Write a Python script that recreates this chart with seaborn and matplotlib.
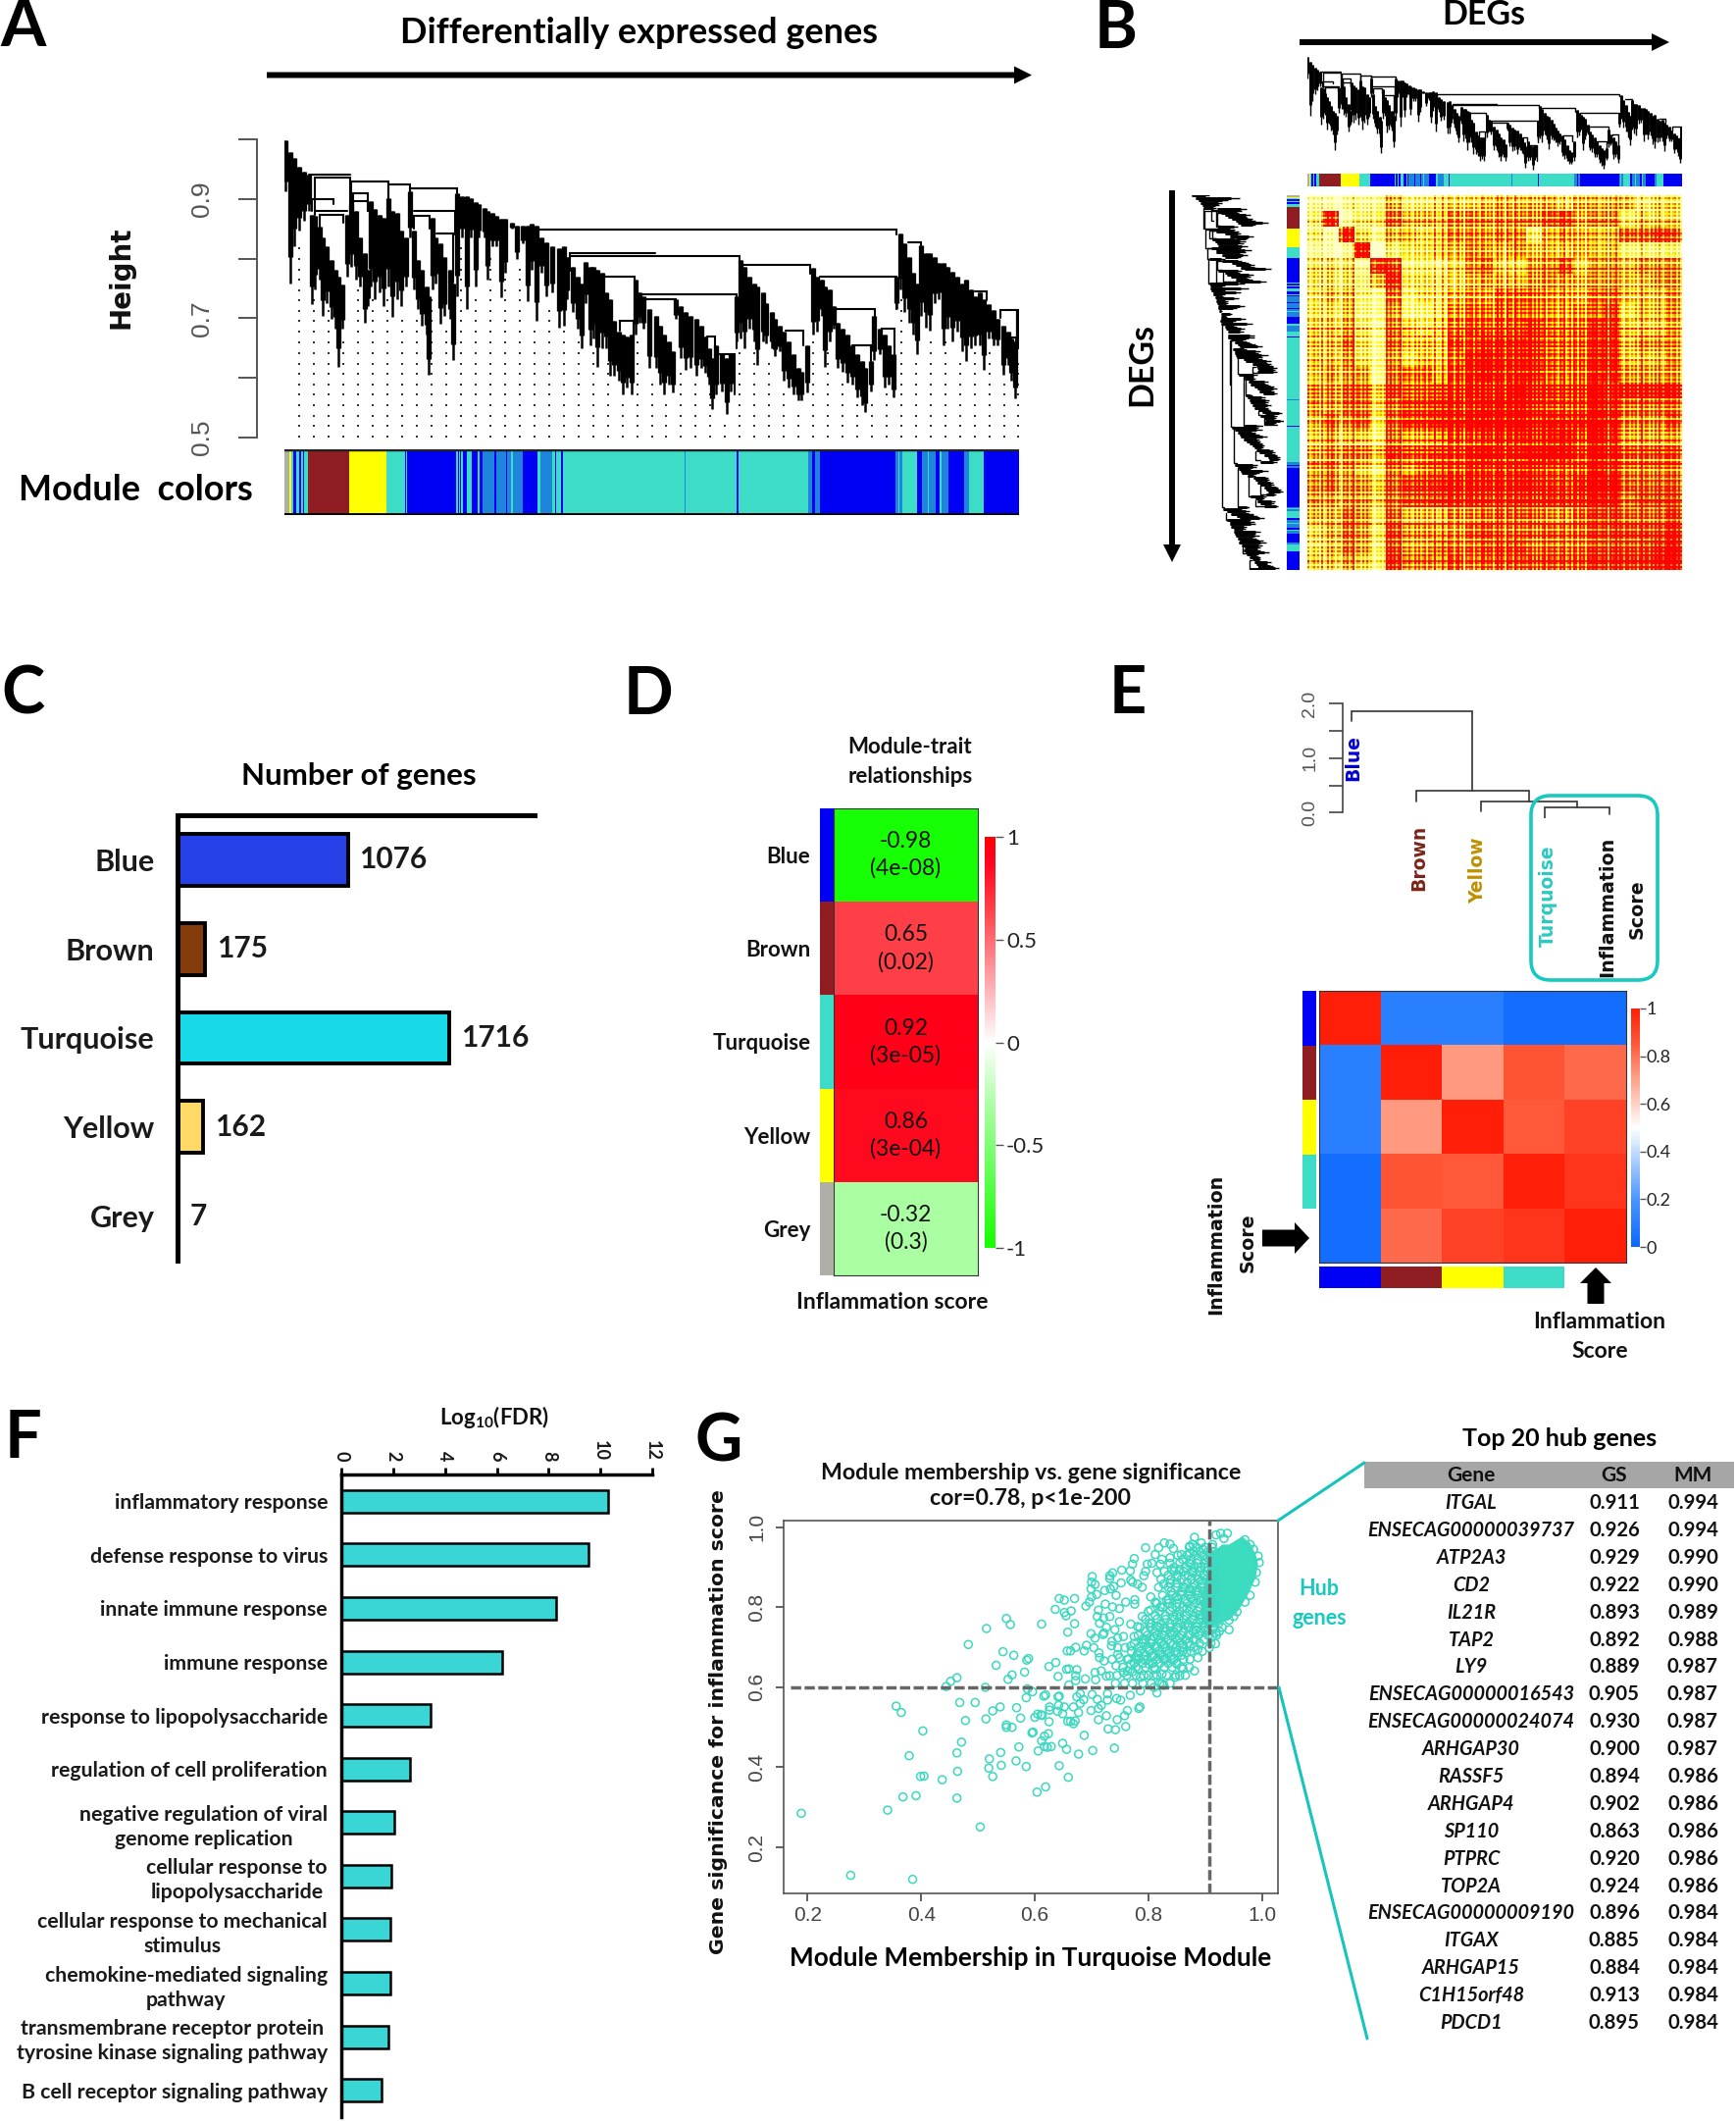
import matplotlib
matplotlib.use("Agg")
import numpy as np
import pandas as pd
import matplotlib.pyplot as plt
import seaborn as sns
from matplotlib.colors import ListedColormap, LinearSegmentedColormap
from matplotlib.patches import FancyArrow, FancyBboxPatch, Rectangle

W, H = 1770, 2162

# gene order modules, run-length: g grey, y yellow, t turquoise, b blue, n brown, m mixed blue/turquoise
MODULE_RUNS = [("g", 20), ("y", 8), ("t", 8), ("b", 12), ("t", 12), ("b", 12), ("t", 8), ("b", 4), ("t", 16), ("n", 174),
               ("y", 154), ("t", 80), ("b", 6), ("t", 4), ("b", 206), ("t", 6), ("b", 4), ("t", 6), ("b", 4), ("t", 6),
               ("b", 18), ("t", 22), ("b", 24), ("t", 10), ("b", 10), ("m", 50), ("b", 8), ("m", 40), ("b", 6), ("m", 16),
               ("t", 8), ("m", 40), ("b", 62), ("t", 14), ("m", 50), ("t", 14), ("b", 4), ("t", 18), ("b", 10), ("t", 510),
               ("m", 6), ("t", 214), ("b", 10), ("t", 290), ("m", 20), ("b", 10), ("m", 20), ("b", 320), ("m", 10), ("t", 4),
               ("m", 16), ("t", 60), ("b", 20), ("m", 24), ("t", 8), ("m", 28), ("b", 16), ("t", 6), ("m", 30), ("b", 68),
               ("m", 20), ("t", 60), ("b", 150)]
MODULE_CODES = "gytbnm"
MODULE_COLORS = ["#AFAFA8", "#FFFF00", "#3CDCC6", "#0000F5", "#8F1D21", "#1E84DC"]

# dendrogram columns: position (% of genes), top height, bottom height
DENDRO_COLUMNS = [
    (0.1, .998, .913), (0.8, .979, .759), (1.3, .968, .820), (2.0, .954, .847), (2.7, .946, .864), (3.3, .940, .880),
    (3.7, .874, .724), (4.2, .872, .748), (4.8, .853, .765), (5.2, .836, .704), (5.8, .820, .726), (6.4, .798, .699),
    (6.9, .781, .682), (7.4, .770, .619), (7.9, .757, .682), (8.5, .874, .770), (9.1, .891, .787), (9.7, .880, .765),
    (10.3, .836, .754), (10.9, .809, .693), (11.4, .781, .721), (11.8, .896, .754), (12.3, .883, .732), (12.9, .874, .743),
    (13.5, .869, .721), (14.1, .902, .754), (14.7, .880, .702), (15.3, .877, .732), (15.9, .847, .721), (16.5, .836, .754),
    (17.1, .913, .836), (17.6, .847, .748), (18.1, .798, .715), (18.7, .781, .688), (19.3, .754, .672), (19.6, .737, .606),
    (20.1, .869, .748), (20.6, .836, .759), (21.2, .825, .691), (21.8, .803, .704), (22.5, .781, .699), (23.0, .759, .630),
    (23.5, .910, .737), (24.1, .905, .836), (24.8, .905, .715), (25.4, .902, .836), (26.0, .894, .754), (26.5, .891, .836),
    (27.2, .885, .836), (27.6, .880, .765), (28.3, .877, .820), (28.8, .872, .820), (29.5, .866, .735), (30.1, .866, .776),
    (31.0, .861, .850), (31.6, .855, .800), (32.5, .855, .825), (33.1, .855, .729), (33.6, .858, .781), (34.3, .855, .695),
    (35.0, .836, .776), (35.6, .828, .737), (36.5, .820, .743), (37.4, .817, .685), (38.0, .820, .688), (38.5, .803, .732),
    (39.2, .787, .710), (39.9, .770, .682), (40.4, .759, .650), (41.0, .795, .726), (41.6, .787, .655), (42.1, .787, .666),
    (42.6, .781, .619), (43.2, .776, .650), (43.8, .743, .650), (44.3, .732, .603), (44.9, .696, .603), (45.5, .677, .595),
    (46.0, .672, .573), (46.6, .669, .584), (47.2, .672, .573), (47.8, .765, .672), (48.3, .743, .693), (48.9, .737, .682),
    (49.7, .715, .617), (50.6, .704, .617), (51.1, .688, .589), (51.7, .672, .573), (52.3, .661, .589), (52.9, .644, .576),
    (53.3, .732, .699), (53.9, .721, .633), (54.6, .710, .614), (55.3, .704, .617), (56.1, .699, .603), (56.7, .688, .617),
    (57.3, .669, .608), (57.8, .650, .589), (58.2, .633, .548), (58.8, .655, .573), (59.5, .639, .578), (60.2, .633, .540),
    (60.8, .639, .578), (61.5, .737, .661), (62.1, .798, .666), (62.6, .787, .650), (63.3, .770, .682), (63.9, .759, .661),
    (64.4, .754, .622), (65.1, .743, .661), (65.6, .726, .658), (66.3, .710, .650), (66.8, .699, .636), (67.4, .688, .644),
    (68.0, .677, .595), (68.6, .661, .584), (69.3, .639, .573), (70.0, .617, .562), (70.4, .611, .562), (71.2, .655, .576),
    (72.0, .784, .672), (72.5, .770, .677), (73.1, .765, .704), (73.6, .754, .619), (74.2, .748, .661), (74.8, .721, .682),
    (75.3, .693, .617), (76.0, .682, .611), (76.6, .672, .592), (77.3, .655, .589), (78.0, .639, .567), (78.6, .628, .554),
    (79.1, .617, .543), (79.8, .628, .578), (80.3, .704, .630), (81.0, .682, .639), (81.7, .672, .584), (82.3, .655, .589),
    (82.9, .639, .567), (83.3, .770, .715), (83.9, .842, .748), (84.4, .825, .710), (85.0, .803, .693), (85.6, .776, .672),
    (86.1, .759, .639), (86.7, .822, .704), (87.3, .809, .685), (87.8, .809, .680), (88.5, .803, .726), (89.1, .792, .732),
    (89.7, .792, .655), (90.2, .787, .682), (90.9, .778, .661), (91.6, .770, .677), (92.2, .759, .644), (92.8, .765, .628),
    (93.4, .748, .650), (94.0, .737, .655), (94.7, .743, .655), (95.2, .732, .614), (95.8, .724, .666), (96.5, .713, .655),
    (97.1, .699, .655), (97.9, .688, .606), (98.5, .677, .622), (98.9, .666, .595), (99.5, .661, .565), (99.8, .713, .650),
]
# merges: left pos, right pos, height, left drop height, right drop height
DENDRO_MERGES = [
    (3.3, 8.9, .940, .940, .940), (4.2, 8.9, .936, .874, .880), (9.1, 14.1, .930, .891, .902), (14.1, 17.1, .924, .902, .913),
    (17.1, 23.5, .918, .913, .910), (4.2, 8.5, .880, .880, .880), (4.8, 8.0, .874, .850, .860), (3.8, 6.7, .900, .880, .892),
    (9.4, 11.4, .910, .880, .880), (9.4, 11.4, .896, .880, .880), (17.6, 23.2, .880, .880, .840), (17.6, 19.8, .872, .850, .850),
    (20.7, 23.0, .842, .842, .760), (34.5, 83.3, .849, .820, .840), (38.8, 61.9, .804, .780, .790), (38.8, 50.5, .809, .800, .809),
    (40.8, 47.7, .770, .760, .765), (47.7, 61.5, .740, .740, .650), (47.8, 53.3, .732, .732, .715), (45.7, 47.5, .696, .680, .660),
    (61.9, 71.5, .790, .790, .775), (72.9, 83.3, .770, .770, .715), (75.0, 80.4, .715, .700, .700), (68.2, 70.6, .680, .680, .655),
    (77.3, 79.8, .655, .655, .628), (81.3, 83.1, .682, .680, .640), (57.5, 58.6, .669, .669, .650), (58.6, 61.3, .639, .600, .573),
    (84.9, 86.7, .828, .828, .822), (94.0, 95.6, .745, .745, .730), (97.4, 99.8, .713, .700, .650), (98.9, 99.6, .667, .660, .640),
]
DOT_POS = [2, 4, 6, 8, 10, 12, 14, 16, 18, 20, 22, 24, 26, 28, 30, 32, 34, 36, 38, 40, 42, 44, 46, 48, 50,
           52, 54, 56, 58, 60, 62, 64, 66, 68, 70, 72, 74, 76, 78, 80, 82, 84, 86, 88, 90, 92, 94, 96, 98, 99.9]
DOT_LEVELS = [.502, .519, .537, .554, .572, .589, .607, .624, .642, .660, .677, .695, .712, .730, .747, .765, .782, .800, .817]
HEIGHT_TICKS = [0.5, 0.6, 0.7, 0.8, 0.9, 1.0]

TOM_BLOCKS = [
    "101124223334444434444233", "280236444555555674552333", "208324434555552454446676", "101902334455454444442222",
    "333187222356335573554555", "333258333345445554554455", "344226233455666554664445", "334225223566666555673445",
    "445326434677778666884445", "446326444778888666884555", "445325344689888666884445", "455526665789888666885555",
    "556647667788898777988888", "556646778889998777986666", "465636778899998888985556", "454436556778888897985555",
    "455547667789889997986666", "565436567788888777986666", "565546778888888778996666", "555546778888888888996777",
    "446536444556666556776667", "346537555567666666777778", "346537556667776666777789", "445438666767777777888899",
]
TOM_COL_STRIPES = [5, 4, 6, 5, 1, 6, 7, 0, 0, 6, 5, 7, 4, 6, 3, 7, 1, 1, 2, 6, 7, 9, 1, 5,
                   3, 6, 2, 7, 4, 6, 3, 5, 7, 2, 6, 4, 7, 3, 6, 5, 2, 7, 4, 6, 3, 7, 5, 2,
                   6, 7, 3, 7, 4, 7, 5, 3, 7, 4, 6, 2, 7, 5, 7, 3, 6, 7, 4, 2, 7, 5, 6, 3,
                   7, 4, 6, 2, 7, 3, 5, 7, 6, 2, 7, 5, 3, 7, 4, 6, 2, 7, 5, 3, 6, 7, 4, 6]
TOM_ROW_STRIPES = [5, 3, 6, 4, 6, 3, 7, 5, 3, 6, 7, 4, 6, 5, 3, 7, 5, 2, 6, 6, 4, 7, 0, 6,
                   3, 6, 2, 6, 4, 7, 3, 5, 6, 2, 7, 4, 6, 3, 7, 5, 3, 6, 4, 7, 6, 3, 7, 2,
                   7, 5, 8, 4, 7, 5, 3, 7, 6, 5, 9, 4, 7, 2, 7, 3, 6, 7, 9, 3, 7, 5, 2, 6,
                   7, 4, 6, 8, 5, 3, 7, 6, 2, 7, 5, 4, 8, 3, 6, 7, 4, 2, 6, 7, 3, 6, 5, 4]
# fine weave of the TOM plot, tiled across the cells
TOM_FINE_COL = [7, 1, 5, 8, 2, 6, 0, 9, 3, 5, 8, 1, 7, 4, 2, 9, 5, 0, 6, 3, 8, 1, 4, 9, 2, 7, 5, 0, 8, 3, 6, 1, 9, 4, 2, 7, 5]
TOM_FINE_ROW = [2, 8, 5, 0, 7, 3, 9, 1, 6, 4, 8, 0, 5, 9, 2, 7, 1, 6, 3, 8, 4, 0, 9, 5, 2, 7, 3, 6, 1, 8, 4]

# panel C
GENE_MODULES = ["Blue", "Brown", "Turquoise", "Yellow", "Grey"]
GENE_COUNTS = [1076, 175, 1716, 162, 7]
GENE_BAR_COLORS = ["#2440E6", "#843C0C", "#17D9E8", "#FFD966", "#A5A5A5"]

# panel D
TRAIT_CORR = [-0.98, 0.65, 0.92, 0.86, -0.32]
TRAIT_PVALS = ["4e-08", "0.02", "3e-05", "3e-04", "0.3"]
TRAIT_STRIP = ["b", "n", "t", "y", "g"]

# panel E
EIGEN_ADJ = [
    [1.00, 0.10, 0.10, 0.03, 0.03],
    [0.10, 1.00, 0.72, 0.86, 0.82],
    [0.10, 0.72, 1.00, 0.85, 0.91],
    [0.03, 0.86, 0.85, 1.00, 0.94],
    [0.03, 0.82, 0.91, 0.94, 1.00],
]
EIGEN_STRIP = ["b", "n", "y", "t"]
EIGEN_MERGES = [(3, 4, .10, -.095, -.03), (2, 3.5, .21, .03, .10), (1, 2.75, .40, .21, .21), (0, 1.875, 1.86, 1.68, .40)]

# panel F
GO_TERMS = ["inflammatory response", "defense response to virus", "innate immune response", "immune response",
            "response to lipopolysaccharide", "regulation of cell proliferation",
            "negative regulation of viral\ngenome replication", "cellular response to\nlipopolysaccharide",
            "cellular response to mechanical\nstimulus", "chemokine-mediated signaling\npathway",
            "transmembrane receptor protein\ntyrosine kinase signaling pathway", "B cell receptor signaling pathway"]
GO_FDR = [10.31, 9.55, 8.28, 6.20, 3.45, 2.65, 2.03, 1.93, 1.88, 1.88, 1.83, 1.54]

# panel G: module membership, gene significance
SCATTER_POINTS = [
    (.189, .285), (.276, .130), (.385, .120), (.504, .251), (.341, .293), (.368, .326), (.391, .329), (.463, .323), (.437, .369),
    (.399, .377), (.405, .378), (.464, .390), (.379, .429), (.463, .436), (.471, .463), (.403, .491), (.478, .517), (.356, .553),
    (.365, .537), (.468, .562), (.495, .562), (.514, .521), (.526, .541), (.539, .551), (.568, .549), (.575, .523), (.550, .506),
    (.550, .500), (.560, .500), (.595, .486), (.597, .488), (.612, .466), (.617, .478), (.624, .484), (.617, .452), (.622, .450),
    (.629, .452), (.606, .441), (.649, .460), (.656, .445), (.572, .451), (.540, .437), (.520, .421), (.519, .398), (.541, .405),
    (.526, .377), (.567, .416), (.585, .402), (.643, .404), (.619, .351), (.604, .338), (.659, .375), (.600, .525), (.605, .533),
    (.611, .531), (.613, .530), (.625, .514), (.640, .540), (.649, .534), (.626, .551), (.626, .543), (.642, .555), (.652, .551),
    (.585, .574), (.616, .578), (.619, .581), (.641, .576), (.643, .578), (.596, .589), (.587, .596), (.444, .602), (.452, .615),
    (.463, .624), (.513, .600), (.553, .620), (.560, .631), (.582, .638), (.532, .655), (.483, .707), (.515, .747), (.544, .689),
    (.563, .680), (.586, .668), (.589, .672), (.625, .652), (.637, .662), (.641, .627), (.550, .772), (.557, .757), (.612, .758),
    (.636, .795), (.652, .787), (.655, .779), (.658, .738), (.657, .691), (.656, .645), (.658, .515),
    (.677, .433), (.702, .442), (.740, .448), (.687, .480), (.729, .496), (.742, .494), (.760, .502), (.663, .515), (.671, .516),
    (.668, .509), (.677, .537), (.668, .551), (.674, .576), (.680, .584), (.686, .569), (.680, .560), (.701, .582), (.699, .542),
    (.712, .519), (.726, .529), (.712, .547), (.717, .555), (.745, .519), (.758, .529), (.763, .542), (.751, .568), (.744, .572),
    (.728, .584), (.728, .568), (.710, .570), (.768, .580), (.785, .551), (.783, .547), (.815, .586), (.786, .591), (.827, .605),
    (.810, .600), (.660, .646), (.674, .644), (.672, .629), (.672, .617), (.689, .621), (.660, .606), (.706, .637), (.707, .619),
    (.717, .641), (.726, .628), (.732, .629), (.663, .691), (.672, .700), (.691, .705), (.687, .691), (.704, .699), (.713, .686),
    (.714, .674), (.722, .666), (.736, .670), (.746, .699), (.735, .704), (.746, .682), (.759, .699), (.749, .674), (.743, .654),
    (.763, .670), (.769, .658), (.778, .674), (.782, .646), (.763, .641), (.756, .637), (.772, .639), (.792, .629), (.786, .625),
    (.809, .629), (.824, .633), (.855, .629), (.847, .625), (.824, .609), (.881, .641), (.887, .674), (.873, .670), (.861, .646),
    (.850, .658), (.841, .670), (.827, .670), (.812, .646), (.801, .658), (.792, .670), (.781, .686), (.769, .703), (.756, .727),
    (.746, .723), (.741, .744), (.722, .736), (.726, .750), (.714, .760), (.699, .734), (.706, .723), (.720, .732), (.736, .715),
    (.670, .759), (.643, .822), (.652, .818), (.670, .822), (.664, .791), (.690, .803), (.696, .813), (.700, .826), (.709, .832),
    (.699, .846), (.706, .857), (.700, .863), (.701, .877), (.723, .842), (.733, .846), (.739, .852), (.732, .872), (.732, .879),
    (.737, .886), (.753, .893), (.752, .861), (.743, .830), (.724, .808), (.712, .793), (.710, .777), (.721, .773), (.732, .777),
    (.737, .801), (.749, .797), (.760, .813), (.749, .764), (.769, .758), (.776, .819), (.776, .808), (.768, .891), (.772, .908),
    (.775, .922), (.769, .868), (.772, .863), (.792, .879), (.795, .890), (.798, .908), (.806, .910), (.795, .949), (.818, .949),
    (.812, .932), (.828, .961), (.838, .958), (.844, .947), (.824, .920), (.838, .924), (.815, .887), (.821, .908), (.841, .895),
    (.858, .932), (.873, .953), (.881, .975), (.878, .958), (.893, .961), (.873, .936), (.875, .908), (.855, .895), (.850, .875),
    (.864, .879), (.804, .826), (.789, .850), (.781, .858), (.812, .813), (.827, .858), (.838, .860), (.850, .826), (.832, .818),
    (.821, .801), (.804, .793), (.789, .777), (.781, .752), (.775, .727), (.801, .760), (.815, .752), (.829, .748), (.844, .777),
    (.855, .777), (.867, .797), (.875, .822), (.884, .842), (.893, .867), (.878, .887), (.899, .899), (.904, .924), (.896, .945),
    (.919, .981), (.927, .985), (.939, .985), (.933, .972), (.913, .957), (.942, .744), (.918, .709), (.907, .699), (.887, .695),
    (.873, .703), (.861, .707), (.844, .707), (.827, .707), (.815, .703), (.801, .695), (.795, .719), (.809, .727), (.824, .732),
    (.838, .736), (.850, .748), (.864, .756), (.878, .768), (.890, .781), (.901, .793), (.913, .809), (.924, .760), (.919, .736),
    (.901, .744), (.884, .744), (.870, .732), (.855, .723), (.835, .686), (.821, .682), (.806, .678), (.850, .686), (.867, .686),
    (.884, .719), (.898, .719), (.913, .727), (.907, .760), (.890, .817), (.873, .846), (.861, .850), (.850, .801),
    (.970, .969), (.979, .957), (.985, .945), (.993, .928), (.995, .912), (.990, .887), (.988, .863), (.979, .830), (.970, .813),
    (.956, .789), (.950, .777), (.942, .768),
]
# crowded part of the cloud, one row of module membership values per gene significance level
CROWD_GS = [.95, .94, .93, .92, .91, .90, .89, .88, .87, .86, .85, .84, .83, .82, .81, .80, .79, .78, .77, .76, .75, .74, .73, .72,
            .71, .70, .69, .68, .67, .66, .65, .63, .61]
CROWD_MM = [
    [.872, .885, .900, .912], [.880, .890, .905, .915], [.852, .868, .882, .896, .908], [.860, .875, .888, .900, .912],
    [.838, .855, .872, .886, .899, .911], [.845, .865, .880, .893, .905, .915], [.828, .845, .862, .878, .890, .903, .916],
    [.835, .852, .870, .885, .897, .910], [.822, .840, .858, .875, .888, .902, .914], [.850, .868, .880, .895, .908, .918],
    [.818, .835, .850, .865, .878, .893, .906, .918], [.840, .858, .872, .888, .900, .912], [.825, .842, .858, .872, .886, .902, .916],
    [.835, .852, .865, .880, .897, .909], [.815, .835, .850, .868, .882, .898, .912], [.825, .842, .860, .875, .890, .905, .918],
    [.800, .820, .838, .855, .872, .887, .900, .915], [.812, .830, .850, .865, .880, .895, .910],
    [.795, .815, .830, .846, .862, .878, .892, .908, .922], [.805, .822, .838, .855, .870, .885, .900, .915],
    [.785, .803, .820, .838, .853, .870, .885, .898, .915, .930], [.795, .812, .830, .845, .862, .878, .892, .905, .925],
    [.782, .798, .815, .828, .842, .858, .872, .888, .905, .920], [.790, .805, .820, .835, .850, .865, .880],
    [.775, .790, .805, .822, .838, .855, .870, .890, .910], [.783, .798, .812, .830, .848, .862, .880],
    [.770, .785, .802, .818, .832, .846, .860, .875, .895], [.780, .795, .810, .825, .840, .858],
    [.765, .782, .798, .815, .830, .845, .862], [.775, .790, .808, .820, .835, .850],
    [.755, .778, .795, .810, .828, .842, .858, .872], [.745, .762, .778, .800, .815, .832, .848, .865],
    [.742, .758, .772, .790, .805, .820, .838],
]
# outline of the saturated core where the rings merge into solid colour
CORE_MM = [.942, .965, .979, .989, .993, .989, .976, .959, .942, .924, .910, .893, .893, .900, .905, .915, .930]
CORE_GS = [.957, .977, .961, .932, .908, .875, .834, .793, .768, .760, .748, .760, .809, .867, .908, .940, .957]
GS_CUT = 0.6
MM_CUT = 0.908

HUB_GENES = ["ITGAL", "ENSECAG00000039737", "ATP2A3", "CD2", "IL21R", "TAP2", "LY9", "ENSECAG00000016543",
             "ENSECAG00000024074", "ARHGAP30", "RASSF5", "ARHGAP4", "SP110", "PTPRC", "TOP2A", "ENSECAG00000009190",
             "ITGAX", "ARHGAP15", "C1H15orf48", "PDCD1"]
HUB_GS = ["0.911", "0.926", "0.929", "0.922", "0.893", "0.892", "0.889", "0.905", "0.930", "0.900",
          "0.894", "0.902", "0.863", "0.920", "0.924", "0.896", "0.885", "0.884", "0.913", "0.895"]
HUB_MM = ["0.994", "0.994", "0.990", "0.990", "0.989", "0.988", "0.987", "0.987", "0.987", "0.987",
          "0.986", "0.986", "0.986", "0.986", "0.986", "0.984", "0.984", "0.984", "0.984", "0.984"]

sns.set_theme(style="white")
plt.rcParams["font.family"] = ["Lato", "DejaVu Sans"]
plt.rcParams["mathtext.fontset"] = "custom"
plt.rcParams["mathtext.bf"] = "Lato:bold"
plt.rcParams["mathtext.rm"] = "Lato:bold"

fig = plt.figure(figsize=(W / 100, H / 100), dpi=100, facecolor="white")
module_cmap = ListedColormap(MODULE_COLORS)
gene_modules = np.repeat([MODULE_CODES.index(c) for c, n in MODULE_RUNS], [n for c, n in MODULE_RUNS])


def add_ax(x0, y0, x1, y1):
    return fig.add_axes([x0 / W, 1 - y1 / H, (x1 - x0) / W, (y1 - y0) / H])


def strip(x0, y0, x1, y1, codes):
    ax = add_ax(x0, y0, x1, y1)
    sns.heatmap(codes, ax=ax, cmap=module_cmap, vmin=-0.5, vmax=5.5, cbar=False, xticklabels=False, yticklabels=False)
    return ax


def draw_dendro(ax, horizontal=True, col_lw=3.8, tail_lw=1.8, line_lw=1.5):
    # thick upper part of each column with a thin tail, so the lobes end in spikes
    columns = np.array(DENDRO_COLUMNS)
    pos, upper, lower = columns[:, 0], columns[:, 1], columns[:, 2]
    mid = lower + 0.2 * (upper - lower)
    if horizontal:
        ax.vlines(pos, lower, upper, color="black", lw=tail_lw)
        ax.vlines(pos, mid, upper, color="black", lw=col_lw)
        for p0, p1, h, d0, d1 in DENDRO_MERGES:
            ax.plot([p0, p0, p1, p1], [d0, h, h, d1], color="black", lw=line_lw, solid_joinstyle="miter")
    else:
        ax.hlines(pos, upper, lower, color="black", lw=tail_lw)
        ax.hlines(pos, upper, mid, color="black", lw=col_lw)
        for p0, p1, h, d0, d1 in DENDRO_MERGES:
            ax.plot([d0, h, h, d1], [p0, p0, p1, p1], color="black", lw=line_lw, solid_joinstyle="miter")


# A
ax = add_ax(290, 142, 1039, 446)
draw_dendro(ax)
columns = np.array(DENDRO_COLUMNS)
dot_x, dot_y = [], []
for p in DOT_POS:
    bottom = columns[np.abs(columns[:, 0] - p).argmin(), 2]
    for level in DOT_LEVELS:
        if level < bottom - 0.01:
            dot_x.append(p)
            dot_y.append(level)
ax.scatter(dot_x, dot_y, s=2.5, marker="s", color="#333333", linewidths=0)
for s in ["top", "right", "bottom"]:
    ax.spines[s].set_visible(False)
ax.spines["left"].set_position(("outward", 20))
ax.spines["left"].set_color("#555555")
ax.spines["left"].set_linewidth(1.4)
ax.set_xlim(0, 100)
ax.set_ylim(0.5, 1.0)
ax.set_xticks([])
ax.set_yticks(HEIGHT_TICKS)
ax.set_yticklabels(["0.5", "", "0.7", "", "0.9", ""], rotation=90, va="center", family="Liberation Sans", fontsize=19, color="#555555")
ax.tick_params(axis="y", left=True, length=14, width=1.4, color="#555555", pad=18)
ax.patch.set_alpha(0)

cb = strip(290, 458, 1039, 525, gene_modules.reshape(1, -1))
cb.axhline(0, color="#222222", lw=2.5)
cb.axhline(1, color="black", lw=3.5)

# B
ax = add_ax(1333, 58, 1715, 175)
draw_dendro(ax, col_lw=2.1, tail_lw=1.0, line_lw=1.0)
ax.set_xlim(0, 100)
ax.set_ylim(0.53, 1.0)
ax.axis("off")
strip(1333, 177, 1715, 190, gene_modules.reshape(1, -1))

ax = add_ax(1215, 199, 1309, 581)
draw_dendro(ax, horizontal=False, col_lw=2.1, tail_lw=1.0, line_lw=1.0)
ax.set_ylim(100, 0)
ax.set_xlim(1.0, 0.54)
ax.axis("off")
strip(1312, 199, 1325, 581, gene_modules.reshape(-1, 1))

blocks = np.array([[int(ch) for ch in row] for row in TOM_BLOCKS], dtype=float)
tom = np.kron(blocks, np.ones((8, 8))) - 0.3
tom = tom + 0.32 * (np.repeat(TOM_ROW_STRIPES, 2)[:, None] - 4.5) + 0.32 * (np.repeat(TOM_COL_STRIPES, 2)[None, :] - 4.5)
tom = tom + 0.5 * (np.resize(TOM_FINE_ROW, 192)[:, None] - 4.5) + 0.5 * (np.resize(TOM_FINE_COL, 192)[None, :] - 4.5)
tom_cmap = LinearSegmentedColormap.from_list(
    "tom", [(0, "#FFFFD6"), (.22, "#FFFFA0"), (.38, "#FFFF10"), (.52, "#FFD800"), (.66, "#FF7000"), (.8, "#FF1000"), (1, "#FF0000")])
ax = add_ax(1333, 199, 1715, 581)
sns.heatmap(np.clip(tom, 0, 9), ax=ax, cmap=tom_cmap, vmin=0, vmax=9, cbar=False, xticklabels=False, yticklabels=False)

# C
ax = add_ax(181, 831, 545, 1285)
sns.barplot(x=GENE_COUNTS, y=GENE_MODULES, hue=GENE_MODULES, palette=GENE_BAR_COLORS, legend=False, orient="h",
            width=0.58, edgecolor="black", linewidth=2.8, saturation=1, ax=ax)
ax.set_xlim(0, 2255)
ax.set_ylim(4.5, -0.5)
ax.set_xticks([])
ax.tick_params(axis="y", length=0, pad=17)
for t in ax.get_yticklabels():
    t.set_fontsize(22)
    t.set_fontweight("bold")
    t.set_color("#1A1A1A")
for i, v in enumerate(GENE_COUNTS):
    ax.text(v + 72, i, str(v), va="center", ha="left", fontsize=21.5, fontweight="bold", color="#1A1A1A")
ax.spines["right"].set_visible(False)
ax.spines["bottom"].set_visible(False)
ax.spines["top"].set_linewidth(3.6)
ax.spines["left"].set_linewidth(3.6)
ax.spines["top"].set_color("black")
ax.spines["left"].set_color("black")

# D
gwr_cmap = LinearSegmentedColormap.from_list(
    "gwr", [(0, "#14FF00"), (.34, "#A8FFA0"), (.5, "#FFFFFF"), (.825, "#FF4048"), (.93, "#FF0A20"), (.96, "#FF0018"), (1, "#FF0000")])
annot = np.array([[f"{c:.2f}\n({p})"] for c, p in zip(TRAIT_CORR, TRAIT_PVALS)])
ax = add_ax(850, 824, 997, 1300)
cax = add_ax(1004, 853, 1015, 1272)
sns.heatmap(np.array(TRAIT_CORR).reshape(-1, 1), ax=ax, cbar_ax=cax, cmap=gwr_cmap, vmin=-1, vmax=1,
            annot=annot, fmt="", annot_kws={"fontsize": 16.5, "color": "#111111", "linespacing": 1.35},
            xticklabels=False, yticklabels=False)
for s in ax.spines.values():
    s.set_visible(True)
    s.set_color("#333333")
    s.set_linewidth(0.8)
cax.set_yticks([-1, -0.5, 0, 0.5, 1])
cax.set_yticklabels(["-1", "-0.5", "0", "0.5", "1"], fontsize=16, color="#222222")
cax.tick_params(axis="y", right=True, length=6, width=1, pad=2, color="#555555")

sax = strip(836, 824, 850, 1300, np.array([[MODULE_CODES.index(c)] for c in TRAIT_STRIP]))
sax.set_yticks(np.arange(5) + 0.5)
sax.set_yticklabels(GENE_MODULES, rotation=0, fontsize=16, fontweight="bold", color="#111111")
sax.tick_params(axis="y", length=0, pad=7)

# E
ax = add_ax(1369, 717, 1650, 834)
for x0, x1, h, d0, d1 in EIGEN_MERGES:
    ax.plot([x0, x0, x1, x1], [d0, h, h, d1], color="#333333", lw=1.2, solid_joinstyle="miter")
ax.set_xlim(-9 / 65.75, 4 + 9 / 65.75)
ax.set_ylim(-0.1, 2.0)
ax.set_xticks([])
ax.set_yticks([0, 0.5, 1.0, 1.5, 2.0])
ax.set_yticklabels(["0.0", "", "1.0", "", "2.0"], rotation=90, va="center", family="Liberation Sans", fontsize=14, color="#555555")
ax.tick_params(axis="y", left=True, length=10, width=1.2, color="#444444", pad=8)
for s in ["top", "right", "bottom"]:
    ax.spines[s].set_visible(False)
ax.spines["left"].set_bounds(0, 2)
ax.spines["left"].set_color("#444444")
ax.spines["left"].set_linewidth(1.2)
ax.patch.set_alpha(0)

bwr_cmap = LinearSegmentedColormap.from_list(
    "bwr2", [(0, "#0A68FF"), (.2, "#4A96FF"), (.5, "#FFFFFF"), (.72, "#FF9A80"), (.86, "#FF5535"), (1, "#FF1E08")])
ax = add_ax(1345, 1010, 1658, 1287)
cax = add_ax(1663, 1028, 1672, 1271)
sns.heatmap(np.array(EIGEN_ADJ), ax=ax, cbar_ax=cax, cmap=bwr_cmap, vmin=0, vmax=1, xticklabels=False, yticklabels=False)
for s in ax.spines.values():
    s.set_visible(True)
    s.set_color("#333333")
    s.set_linewidth(0.8)
cax.set_yticks([0, 0.2, 0.4, 0.6, 0.8, 1])
cax.set_yticklabels(["0", "0.2", "0.4", "0.6", "0.8", "1"], fontsize=13, color="#222222")
cax.tick_params(axis="y", right=True, length=4, width=1, pad=1, color="#555555")
strip(1328, 1010, 1342, 1232, np.array([[MODULE_CODES.index(c)] for c in EIGEN_STRIP]))
strip(1345, 1291, 1595, 1313, np.array([[MODULE_CODES.index(c) for c in EIGEN_STRIP]]))

# F
ax = add_ax(348, 1503, 665, 2158)
sns.barplot(x=GO_FDR, y=GO_TERMS, orient="h", color="#3AD6D6", width=0.42, edgecolor="black", linewidth=1.8, saturation=1, ax=ax)
ax.set_xlim(0, 12)
ax.set_ylim(11.5, -0.5)
ax.xaxis.tick_top()
ax.set_xticks([0, 2, 4, 6, 8, 10, 12])
ax.set_xticklabels(["0", "2", "4", "6", "8", "10", "12"], rotation=-90, fontsize=13, fontweight="bold", color="#1A1A1A")
ax.tick_params(axis="x", top=True, length=5, width=2, pad=5, color="black")
ax.tick_params(axis="y", length=0, pad=10)
for t in ax.get_yticklabels():
    t.set_fontsize(15.3)
    t.set_fontweight("bold")
    t.set_color("#1A1A1A")
    t.set_multialignment("center")
    t.set_linespacing(1.32)
ax.spines["right"].set_visible(False)
ax.spines["bottom"].set_visible(False)
ax.spines["top"].set_linewidth(2.5)
ax.spines["left"].set_linewidth(2.5)
ax.spines["top"].set_color("black")
ax.spines["left"].set_color("black")

# G
mm_all = [p[0] for p in SCATTER_POINTS]
gs_all = [p[1] for p in SCATTER_POINTS]
for gs, row in zip(CROWD_GS, CROWD_MM):
    mm_all.extend(row)
    gs_all.extend([gs] * len(row))
scatter_df = pd.DataFrame({"mm": mm_all, "gs": gs_all})
ax = add_ax(799, 1549.5, 1303, 1929.5)
ax.fill(CORE_MM, CORE_GS, color="#3CDCC0", lw=0, zorder=2)
sns.scatterplot(data=scatter_df, x="mm", y="gs", ax=ax, s=33, facecolor="none", edgecolor="#3CD8C0", linewidth=1.1, zorder=3)
ax.set_xlim(0.158, 1.028)
ax.set_ylim(0.086, 1.018)
ax.set_xlabel("")
ax.set_ylabel("")
ax.hlines(GS_CUT, 0.17, 1.028, color="#666666", lw=2.5, linestyles=(0, (3.0, 1.0)), zorder=4)
ax.axvline(MM_CUT, color="#666666", lw=2.5, linestyle=(0, (3.0, 1.0)), zorder=4)
ax.set_xticks([0.2, 0.4, 0.6, 0.8, 1.0])
ax.set_yticks([0.2, 0.4, 0.6, 0.8, 1.0])
ax.set_xticklabels(["0.2", "0.4", "0.6", "0.8", "1.0"], family="Liberation Sans", fontsize=15, color="#444444")
ax.set_yticklabels(["0.2", "0.4", "0.6", "0.8", "1.0"], rotation=90, va="center", family="Liberation Sans", fontsize=15, color="#444444")
ax.tick_params(axis="x", bottom=True, length=6, width=1.2, color="#444444", pad=4)
ax.tick_params(axis="y", left=True, length=6, width=1.2, color="#444444", pad=7)
for s in ax.spines.values():
    s.set_color("#555555")
    s.set_linewidth(1.2)

# text, arrows and connectors on a full-figure layer
top = fig.add_axes([0, 0, 1, 1], zorder=20)
top.set_xlim(0, W)
top.set_ylim(H, 0)
top.axis("off")


def label(x, y, s, size=16, weight="bold", ha="center", va="center", color="#111111", **kw):
    top.text(x, y, s, fontsize=size, fontweight=weight, ha=ha, va=va, color=color, **kw)


def arrow(x, y, dx, dy, shaft, head_w, head_l):
    top.add_patch(FancyArrow(x, y, dx, dy, width=shaft, head_width=head_w, head_length=head_l,
                             length_includes_head=True, color="black", lw=0))


for letter, x, y in [("A", 24, 28), ("B", 1138, 30), ("C", 23, 709), ("D", 661, 709), ("E", 1150, 708), ("F", 23, 1467), ("G", 733, 1470)]:
    label(x, y, letter, size=48, color="black")

label(651, 34, "Differentially expressed genes", size=26, color="black")
arrow(272, 76.5, 780, 0, 6, 18, 18)
label(123, 283, "Height", size=20, rotation=90, family="DejaVu Sans")
label(138, 499, "Module  colors", size=26, color="black")

label(1513, 15, "DEGs", size=24.5, color="black")
arrow(1325, 43, 377, 0, 6, 18, 18)
arrow(1195, 194, 0, 379, 6, 18, 18)
label(1164, 371, "DEGs", size=24.5, rotation=90, color="black")

label(366, 791, "Number of genes", size=22.5, color="black")

label(928, 761, "Module-trait", size=16)
label(928, 791, "relationships", size=16)
label(910, 1328, "Inflammation score", size=16.5)

for name, x, y, color in [("Blue", 1380, 749, "#0000CC"), ("Brown", 1447, 841, "#7B2418"), ("Yellow", 1507, 853, "#BF9000"), ("Turquoise", 1578, 861, "#2CC9C0")]:
    label(x, y, name, size=13.5, rotation=90, va="top", color=color, family="DejaVu Sans")
label(1639, 853, "Inflammation", size=13.7, rotation=90, va="top", family="DejaVu Sans")
label(1669, 896, "Score", size=13.7, rotation=90, va="top", family="DejaVu Sans")
top.add_patch(FancyBboxPatch((1581, 831), 89, 148, boxstyle="round,pad=20,rounding_size=20", fill=False, ec="#17C9C0", lw=2.6))
label(1240, 1268, "Inflammation", size=13.7, rotation=90, family="DejaVu Sans")
label(1272, 1267, "Score", size=13.7, rotation=90, family="DejaVu Sans")
arrow(1287, 1262, 48, 0, 17, 32, 15)
arrow(1627, 1329, 0, -37, 17, 32, 16)
label(1631, 1348, "Inflammation", size=16.5)
label(1631, 1377, "Score", size=16.5)

label(504, 1444, r"Log$_{\mathbf{10}}$(FDR)", size=16)

label(1051, 1502, "Module membership vs. gene significance", size=16.7)
label(1051, 1528, "cor=0.78, p<1e-200", size=16.7)
label(1051, 1996, "Module Membership in Turquoise Module", size=18.8, color="black")
label(733, 1755, "Gene significance for inflammation score", size=14.7, rotation=90, family="DejaVu Sans")
label(1345, 1619, "Hub", size=15.5, color="#17C9C0")
label(1345, 1649, "genes", size=15.5, color="#17C9C0")
top.plot([1303, 1391], [1550, 1491], color="#17C4BC", lw=2.2)
top.plot([1304, 1394], [1720, 2078], color="#17C4BC", lw=2.2)

label(1590, 1467, "Top 20 hub genes", size=18, color="black")
top.add_patch(Rectangle((1391, 1490), 377, 27, color="#A6A6A6", lw=0))
label(1500, 1504, "Gene", size=15)
label(1646, 1504, "GS", size=15)
label(1726, 1504, "MM", size=15)
for i, (gene, gs, mm) in enumerate(zip(HUB_GENES, HUB_GS, HUB_MM)):
    y = 1532 + i * 27.9
    label(1500, y, gene, size=14.3, fontstyle="italic")
    label(1646, y, gs, size=14.6)
    label(1726, y, mm, size=14.6)

fig.savefig("out.png", dpi=100)
